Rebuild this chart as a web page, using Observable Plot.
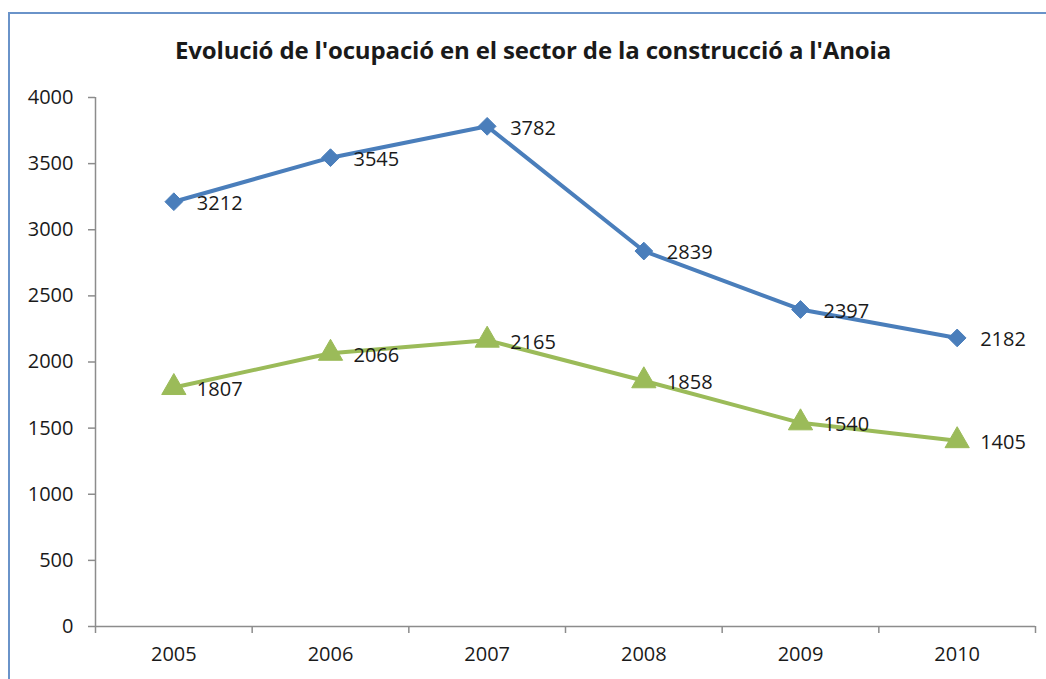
<!DOCTYPE html>
<html>
<head>
<meta charset="utf-8">
<script src="https://cdn.jsdelivr.net/npm/d3@7"></script>
<script src="https://cdn.jsdelivr.net/npm/@observablehq/plot@0.6"></script>
<style>
  html, body { margin: 0; padding: 0; background: #fff; }
  body { width: 1046px; height: 679px; position: relative; overflow: hidden; font-family: "Open Sans", sans-serif; }
  #frame { position: absolute; left: 8px; top: 12px; width: 1100px; height: 720px; border: 2px solid #6a93c9; box-sizing: border-box; }
  #title { position: absolute; left: 0; width: 1066px; top: 33px; text-align: center; font-weight: bold; font-size: 24px; color: #1a1a1a; letter-spacing: -0.15px; white-space: nowrap; }
  #chart { position: absolute; left: 0; top: 80px; }
</style>
</head>
<body>
<div id="frame"></div>
<div id="title">Evolució de l'ocupació en el sector de la construcció a l'Anoia</div>
<div id="chart"></div>
<script>
const years = ["2005", "2006", "2007", "2008", "2009", "2010"];
const seriesA = [3212, 3545, 3782, 2839, 2397, 2182];
const seriesB = [1807, 2066, 2165, 1858, 1540, 1405];
const yTicks = [0, 500, 1000, 1500, 2000, 2500, 3000, 3500, 4000];

const dataA = years.map((y, i) => ({i, year: y, value: seriesA[i]}));
const dataB = years.map((y, i) => ({i, year: y, value: seriesB[i]}));
const centers = years.map((_, i) => i);
const bounds = d3.range(years.length + 1).map(i => i - 0.5);

const blue = "#4a7ebb";
const green = "#9bbb59";
const axisColor = "#8c8c8c";

const chart = Plot.plot({
  width: 1046,
  height: 599,
  marginLeft: 95,
  marginRight: 11,
  marginTop: 17,
  marginBottom: 53,
  style: {fontFamily: "Open Sans, sans-serif", fontSize: "20px", color: "#1a1a1a", background: "transparent"},
  x: {domain: [-0.5, years.length - 0.5], axis: null},
  y: {domain: [0, 4000], axis: null},
  marks: [
    Plot.ruleY([0], {stroke: axisColor, strokeWidth: 1.5}),
    Plot.ruleX([-0.5], {stroke: axisColor, strokeWidth: 1.5}),
    Plot.axisY({ticks: yTicks, tickSize: 7, tickPadding: 15, tickFormat: d => String(d), stroke: axisColor, strokeWidth: 1.5, fontSize: 20, fill: "#1a1a1a", label: null}),
    Plot.axisX({ticks: bounds, tickSize: 7, tickFormat: () => "", stroke: axisColor, strokeWidth: 1.5, label: null}),
    Plot.axisX({ticks: centers, tickSize: 0, tickPadding: 20, tickFormat: i => years[i], fontSize: 20, fill: "#1a1a1a", label: null}),
    Plot.line(dataA, {x: "i", y: "value", stroke: blue, strokeWidth: 4}),
    Plot.line(dataB, {x: "i", y: "value", stroke: green, strokeWidth: 4}),
    Plot.dot(dataA, {x: "i", y: "value", symbol: "diamond2", r: 8, fill: blue, stroke: blue, strokeWidth: 1}),
    Plot.dot(dataB, {x: "i", y: "value", symbol: "triangle", r: 9, fill: green, stroke: green, strokeWidth: 1}),
    Plot.text(dataA, {x: "i", y: "value", text: d => String(d.value), textAnchor: "start", dx: 23, dy: 2, fontSize: 20, fill: "#1a1a1a"}),
    Plot.text(dataB, {x: "i", y: "value", text: d => String(d.value), textAnchor: "start", dx: 23, dy: 2, fontSize: 20, fill: "#1a1a1a"})
  ]
});
document.getElementById("chart").appendChild(chart);
</script>
</body>
</html>
